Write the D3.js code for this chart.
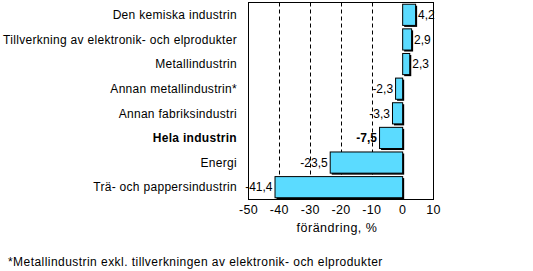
<!DOCTYPE html>
<html><head><meta charset="utf-8">
<script src="https://cdn.jsdelivr.net/npm/d3@7"></script>
<style>body{margin:0;background:#fff}svg{display:block}text{font-family:"Liberation Sans",Arial,sans-serif;font-size:12px;fill:#000}</style>
</head><body>
<svg id="c" width="533" height="271"></svg>
<script>
const categories = ["Den kemiska industrin","Tillverkning av elektronik- och elprodukter","Metallindustrin","Annan metallindustrin*","Annan fabriksindustri","Hela industrin","Energi","Trä- och pappersindustrin"];
const values = [4.2, 2.9, 2.3, -2.3, -3.3, -7.5, -23.5, -41.4];
const boldCats = ["Hela industrin"];
const ticks = [-50,-40,-30,-20,-10,0,10];
const gridTicks = [-40,-30,-20,-10];
const axisTitle = "förändring, %";
const footnote = "*Metallindustrin exkl. tillverkningen av elektronik- och elprodukter";

const svg = d3.select("#c");
const L = 248.5, R = 433.5, T = 2.5, B = 199.5;
const x = d3.scaleLinear().domain([-50,10]).range([L,R]);
const y = d3.scaleBand().domain(categories).range([T,B]).paddingInner(0.14).paddingOuter(0.07);
const fmt = v => String(v).replace(".", ",");

svg.append("g").selectAll("line").data(gridTicks).join("line")
  .attr("x1", d => Math.round(x(d))+0.5).attr("x2", d => Math.round(x(d))+0.5)
  .attr("y1", T).attr("y2", B)
  .attr("stroke","#000").attr("stroke-dasharray","4,3").attr("stroke-width",1);

const data = categories.map((c,i)=>({c, v: values[i]}));
svg.append("g").selectAll("rect").data(data).join("rect")
  .attr("x", d => Math.min(x(d.v), x(0)) + 1.5)
  .attr("y", d => y(d.c) + 1.5)
  .attr("width", d => Math.abs(x(d.v)-x(0)))
  .attr("height", y.bandwidth())
  .attr("fill","#000");
svg.append("g").selectAll("rect").data(data).join("rect")
  .attr("x", d => Math.min(x(d.v), x(0)))
  .attr("y", d => y(d.c))
  .attr("width", d => Math.abs(x(d.v)-x(0)))
  .attr("height", y.bandwidth())
  .attr("fill","#5BDBFF").attr("stroke","#000").attr("stroke-width",1);

svg.append("rect").attr("x",L).attr("y",T).attr("width",R-L).attr("height",B-T)
  .attr("fill","none").attr("stroke","#000").attr("stroke-width",1);

svg.append("g").selectAll("text").data(data).join("text")
  .attr("x", d => d.v >= 0 ? x(d.v) + 2.5 : x(d.v) - 2.5)
  .attr("y", d => y(d.c) + y.bandwidth()/2)
  .attr("dy","0.35em")
  .attr("text-anchor", d => d.v >= 0 ? "start" : "end")
  .style("font-weight", d => boldCats.includes(d.c) ? "bold" : "normal")
  .text(d => fmt(d.v));

svg.append("g").selectAll("text").data(categories).join("text")
  .attr("x", 237)
  .attr("y", d => y(d) + y.bandwidth()/2)
  .attr("dy","0.35em")
  .attr("text-anchor","end")
  .style("letter-spacing","0.3px")
  .style("font-weight", d => boldCats.includes(d) ? "bold" : "normal")
  .text(d => d);

svg.append("g").selectAll("text").data(ticks).join("text")
  .attr("x", d => x(d)).attr("y", 210).attr("dy","0.35em")
  .attr("text-anchor","middle").style("font-size","12.5px").style("letter-spacing","0.3px").text(d => d);

svg.append("text").attr("x", 337).attr("y", 228).attr("dy","0.35em")
  .attr("text-anchor","middle").style("font-size","12.5px").style("letter-spacing","0.5px").text(axisTitle);

svg.append("text").attr("x", 8).attr("y", 262).attr("dy","0.35em")
  .style("letter-spacing","0.45px")
  .text(footnote);
</script>
</body></html>
